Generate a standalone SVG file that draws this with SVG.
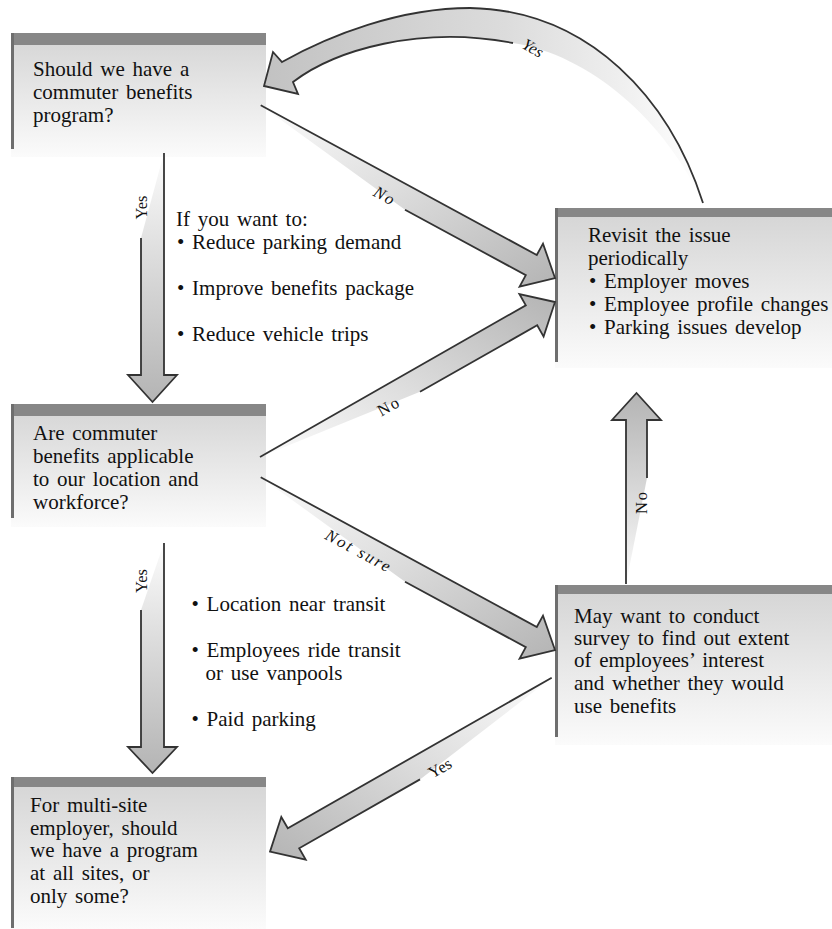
<svg xmlns="http://www.w3.org/2000/svg" width="832" height="929" viewBox="0 0 832 929">
<style>
.t{font-family:"Liberation Serif","Times New Roman",serif;font-size:21px;fill:#111;word-spacing:2.5px}
.lbl{font-family:"Liberation Serif","Times New Roman",serif;font-size:16.5px;fill:#111;text-anchor:middle}
.it{font-style:italic}
.bar{fill:#878787}
.edge{fill:#6e6e6e}
.box{fill:url(#boxg)}
.arr{stroke:#333;stroke-width:1.8;stroke-linejoin:miter;stroke-linecap:butt}
</style>
<defs>
<linearGradient id="boxg" x1="0" y1="0" x2="0" y2="1">
<stop offset="0" stop-color="#d4d4d4"/><stop offset="1" stop-color="#fbfbfb"/>
</linearGradient>
<linearGradient id="gDown" x1="0" y1="0" x2="0" y2="1">
<stop offset="0" stop-color="#fcfcfc"/><stop offset="0.4" stop-color="#dedede"/><stop offset="1" stop-color="#b4b4b4"/>
</linearGradient>
<linearGradient id="gUp" x1="0" y1="1" x2="0" y2="0">
<stop offset="0" stop-color="#fcfcfc"/><stop offset="0.4" stop-color="#dedede"/><stop offset="1" stop-color="#b4b4b4"/>
</linearGradient>
<linearGradient id="gDR" x1="0" y1="0" x2="1" y2="1">
<stop offset="0" stop-color="#fcfcfc"/><stop offset="0.45" stop-color="#dedede"/><stop offset="1" stop-color="#b4b4b4"/>
</linearGradient>
<linearGradient id="gUR" x1="0" y1="1" x2="1" y2="0">
<stop offset="0" stop-color="#fcfcfc"/><stop offset="0.45" stop-color="#dedede"/><stop offset="1" stop-color="#b4b4b4"/>
</linearGradient>
<linearGradient id="gDL" x1="1" y1="0" x2="0" y2="1">
<stop offset="0" stop-color="#fcfcfc"/><stop offset="0.45" stop-color="#dedede"/><stop offset="1" stop-color="#b4b4b4"/>
</linearGradient>
<linearGradient id="gCurve" gradientUnits="userSpaceOnUse" x1="264" y1="0" x2="703" y2="0">
<stop offset="0" stop-color="#c2c2c2"/><stop offset="0.55" stop-color="#dcdcdc"/><stop offset="0.8" stop-color="#eeeeee"/><stop offset="1" stop-color="#ffffff"/>
</linearGradient>
</defs>

<g id="box1">
<rect class="box" x="11" y="33" width="255" height="124"/>
<rect class="bar" x="11" y="33" width="255" height="12"/>
<rect class="edge" x="11" y="33" width="3" height="116"/>
<text class="t" x="33" y="76">Should we have a</text>
<text class="t" x="33" y="99">commuter  benefits</text>
<text class="t" x="33" y="122">program?</text>
</g>

<g id="box2">
<rect class="box" x="11" y="404" width="255" height="123"/>
<rect class="bar" x="11" y="404" width="255" height="12"/>
<rect class="edge" x="11" y="404" width="3" height="114"/>
<text class="t" x="33" y="440">Are commuter</text>
<text class="t" x="33" y="463">benefits applicable</text>
<text class="t" x="33" y="486">to our location and</text>
<text class="t" x="33" y="509">workforce?</text>
</g>

<g id="box4">
<rect class="box" x="11" y="777" width="255" height="152"/>
<rect class="bar" x="11" y="777" width="255" height="10"/>
<rect class="edge" x="11" y="777" width="3" height="151"/>
<text class="t" x="30" y="812">For multi-site</text>
<text class="t" x="30" y="835">employer, should</text>
<text class="t" x="30" y="857">we have a program</text>
<text class="t" x="30" y="880">at all sites, or</text>
<text class="t" x="30" y="903">only some?</text>
</g>

<g id="box3">
<rect class="box" x="555" y="208" width="277" height="160"/>
<rect class="bar" x="555" y="208" width="277" height="9"/>
<rect class="edge" x="555" y="208" width="3" height="154"/>
<text class="t" x="588" y="242">Revisit the issue</text>
<text class="t" x="588" y="265">periodically</text>
<text class="t" x="589" y="288">• Employer moves</text>
<text class="t" x="589" y="311">• Employee profile changes</text>
<text class="t" x="589" y="334">• Parking issues develop</text>
</g>

<g id="box5">
<rect class="box" x="555" y="585" width="277" height="160"/>
<rect class="bar" x="555" y="585" width="277" height="9"/>
<rect class="edge" x="555" y="585" width="3" height="152"/>
<text class="t" x="574" y="623">May want to conduct</text>
<text class="t" x="574" y="645">survey to find out extent</text>
<text class="t" x="574" y="667">of employees’ interest</text>
<text class="t" x="574" y="690">and whether they would</text>
<text class="t" x="574" y="713">use benefits</text>
</g>

<g id="note1">
<text class="t" x="176" y="226">If you want to:</text>
<text class="t" x="177" y="249">• Reduce parking demand</text>
<text class="t" x="177" y="295">• Improve benefits package</text>
<text class="t" x="177" y="341">• Reduce vehicle trips</text>
</g>

<g id="note2">
<text class="t" x="191.5" y="611">• Location near transit</text>
<text class="t" x="191.5" y="657">• Employees ride transit</text>
<text class="t" x="205.5" y="680">or use vanpools</text>
<text class="t" x="191.5" y="726">• Paid parking</text>
</g>

<g id="connectors">
<path class="arr" fill="url(#gDown)" d="M164,153 L164,375 L177,375 L152.5,402 L128,375 L141,375 L141,238"/>
<text class="lbl" transform="translate(141,207.5) rotate(-90)" x="0" y="5.5">Yes</text>
<path class="arr" fill="url(#gDown)" d="M164,543 L164,747 L177,747 L152.5,773 L128,747 L141,747 L141,610"/>
<text class="lbl" transform="translate(141,581) rotate(-90)" x="0" y="5.5">Yes</text>
<path class="arr" fill="url(#gDR)" d="M260.7,105.2 L536.8,255 L543,243.6 L555,278 L519.6,286.6 L525.8,275.2 L405,209.7"/>
<text class="lbl it" transform="translate(385,196) rotate(28.5)" x="0" y="5.5" letter-spacing="2">No</text>
<path class="arr" fill="url(#gUR)" d="M260,457 L525.8,305.3 L519.4,294 L555,302 L543.6,336.6 L537.2,325.3 L420,391.7"/>
<text class="lbl" transform="translate(389,406) rotate(-29.5)" x="0" y="5.5" letter-spacing="2">No</text>
<path class="arr" fill="url(#gDR)" d="M260.7,477.2 L536.8,627 L543,615.6 L555,650 L519.6,658.6 L525.8,647.2 L405,581.7"/>
<text class="lbl it" transform="translate(359,551) rotate(28.3)" x="0" y="5.5" letter-spacing="2.2">Not sure</text>
<path class="arr" fill="url(#gDL)" d="M551.7,677.7 L287.8,828.3 L281.3,817 L270,851.7 L305.7,859.6 L299.2,848.3 L420,779.4"/>
<text class="lbl" transform="translate(440,768) rotate(-29.7)" x="0" y="5.5">Yes</text>
<path class="arr" fill="url(#gUp)" d="M647,478 L647,420 L661,420 L636.5,393 L612,420 L626,420 L626,584"/>
<text class="lbl" transform="translate(641,502) rotate(-90)" x="0" y="5.5" letter-spacing="2">No</text>
<path fill="url(#gCurve)" d="M703,203 C670,100 590,10 470,8 C400,8 330,35 282,62 L273,52 L264,86 L298,94 L293,82 C335,50 420,25 513,43 C590,55 665,120 703,203 Z"/>
<path class="arr" fill="none" d="M703,203 C670,100 590,10 470,8 C400,8 330,35 282,62 L273,52 L264,86 L298,94 L293,82 C335,50 420,25 513,43"/>
<text class="lbl it" transform="translate(533,48) rotate(30)" x="0" y="5.5">Yes</text>
</g>
</svg>
